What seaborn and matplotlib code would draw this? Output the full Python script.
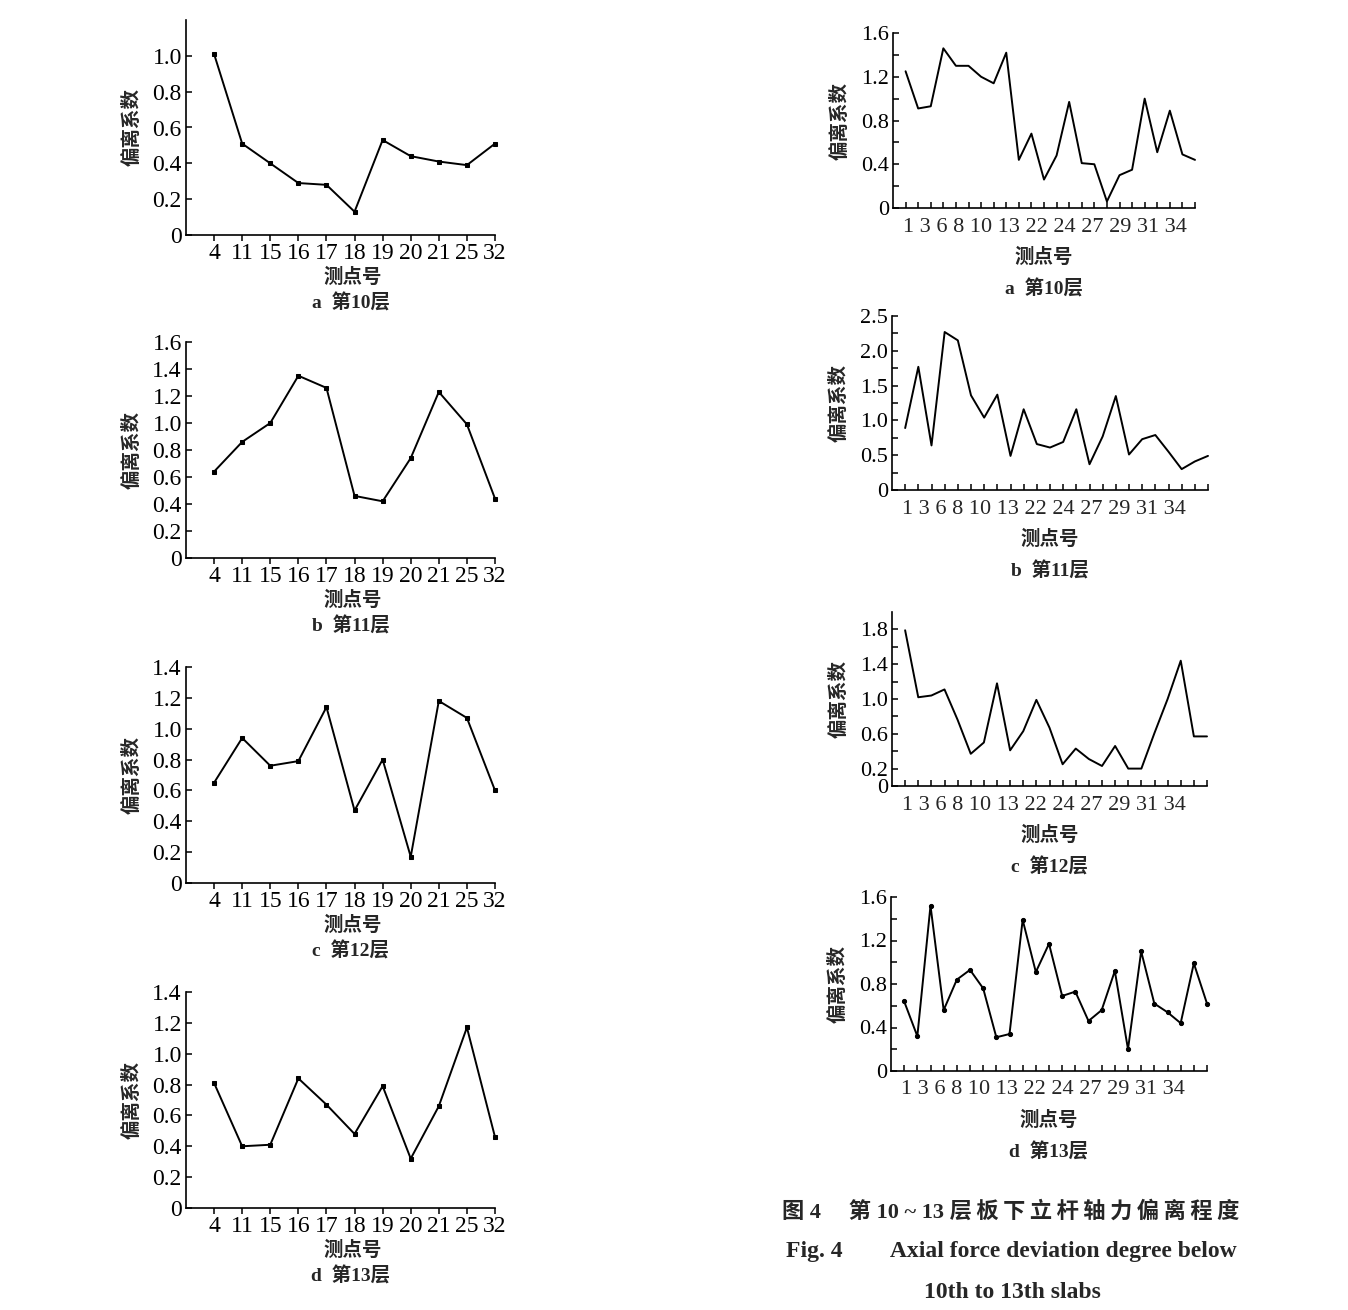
import numpy as np
import pandas as pd
import matplotlib
matplotlib.use('Agg')
import matplotlib.pyplot as plt
import seaborn as sns

W, H = 1348, 1310

# left column: points 4..32
left_ids = ['4', '11', '15', '16', '17', '18', '19', '20', '21', '25', '32']
left_10 = [1.01, 0.51, 0.40, 0.29, 0.28, 0.13, 0.53, 0.44, 0.41, 0.39, 0.51]
left_11 = [0.64, 0.86, 1.00, 1.35, 1.26, 0.46, 0.42, 0.74, 1.23, 0.99, 0.44]
left_12 = [0.65, 0.94, 0.76, 0.79, 1.14, 0.47, 0.80, 0.17, 1.18, 1.07, 0.60]
left_13 = [0.81, 0.40, 0.41, 0.84, 0.67, 0.48, 0.79, 0.32, 0.66, 1.17, 0.46]

# right column: 24 points, labels as printed
right_labels = ['1', '3', '6', '8', '10', '13', '22', '24', '27', '29', '31', '34']
right_10 = [1.25, 0.91, 0.93, 1.46, 1.30, 1.30, 1.20, 1.14, 1.42, 0.44, 0.68, 0.26,
            0.48, 0.97, 0.41, 0.40, 0.06, 0.30, 0.35, 1.00, 0.51, 0.89, 0.49, 0.44]
right_11 = [0.89, 1.77, 0.64, 2.27, 2.15, 1.36, 1.04, 1.37, 0.49, 1.16, 0.66, 0.61,
            0.69, 1.16, 0.37, 0.77, 1.35, 0.51, 0.73, 0.79, 0.55, 0.30, 0.41, 0.49]
right_12 = [1.79, 1.02, 1.04, 1.11, 0.76, 0.37, 0.50, 1.18, 0.41, 0.63, 0.99, 0.67,
            0.25, 0.43, 0.31, 0.23, 0.46, 0.20, 0.20, 0.61, 1.00, 1.44, 0.57, 0.57]
right_13 = [0.64, 0.32, 1.52, 0.56, 0.84, 0.93, 0.76, 0.31, 0.34, 1.39, 0.91, 1.17,
            0.69, 0.73, 0.46, 0.56, 0.92, 0.20, 1.10, 0.62, 0.54, 0.44, 0.99, 0.62]

panel_names = ['a  第10层', 'b  第11层', 'c  第12层', 'd  第13层']

sns.set_theme(style='ticks')
plt.rcParams['font.family'] = ['Liberation Serif', 'Noto Sans CJK SC']
plt.rcParams['axes.linewidth'] = 1.2
plt.rcParams['axes.edgecolor'] = 'black'

CJK = ['Noto Sans CJK SC', 'DejaVu Sans']
MIX = ['Liberation Serif', 'Noto Sans CJK SC']

fig = plt.figure(figsize=(W / 100, H / 100), dpi=100)


def add_axes(left, right, top, bottom):
    return fig.add_axes([left / W, 1 - bottom / H, (right - left) / W, (bottom - top) / H])


def fmt(v):
    return '0' if v == 0 else f'{v:.1f}'


# left column
left_boxes = [(20, 235), (342, 558), (667, 883), (992, 1208)]
left_series = [left_10, left_11, left_12, left_13]
left_ylim = [(1.2, 1.0), (1.6, 1.6), (1.4, 1.4), (1.4, 1.4)]

for i, (vals, (top, bottom), (ymax, ylab)) in enumerate(zip(left_series, left_boxes, left_ylim)):
    ax = add_axes(186, 495, top, bottom)
    df = pd.DataFrame({'pos': np.arange(len(vals)), 'val': vals})
    sns.lineplot(data=df, x='pos', y='val', ax=ax, color='black', lw=1.4,
                 marker='s', markersize=3.5, markeredgecolor='black', sort=False,
                 clip_on=False)
    ax.set_xlim(-1, len(vals) - 1)
    ax.set_ylim(0, ymax)
    ticks = np.round(np.arange(0, ylab + 0.01, 0.2), 1)
    ax.set_yticks(ticks)
    ax.set_yticklabels([fmt(t) for t in ticks], fontsize=17)
    ax.set_xticks(np.arange(len(vals)))
    ax.set_xticklabels(left_ids, fontsize=17)
    ax.tick_params(axis='y', direction='in', length=4, width=1.1, pad=3, colors='black')
    ax.tick_params(axis='x', direction='out', length=4, width=1.1, pad=2, colors='black')
    sns.despine(ax=ax)
    ax.set_xlabel('')
    ax.set_ylabel('偏离系数', fontsize=14, fontweight='bold', family=CJK, labelpad=8)
    ax.annotate('测点号', xy=(0.5, 0), xycoords='axes fraction', xytext=(12, -42),
                textcoords='offset pixels', ha='center', va='center',
                fontsize=14, fontweight='bold', family=CJK)
    ax.annotate(panel_names[i], xy=(0.5, 0), xycoords='axes fraction', xytext=(10, -68),
                textcoords='offset pixels', ha='center', va='center',
                fontsize=14, fontweight='bold', family=MIX)

# right column
right_boxes = [(893, 1195, 33, 208), (892, 1208, 316, 490),
               (892, 1207, 612, 786), (891, 1207, 897, 1071)]
right_series = [right_10, right_11, right_12, right_13]
right_major = [[0, 0.4, 0.8, 1.2, 1.6], [0, 0.5, 1.0, 1.5, 2.0, 2.5],
               [0, 0.2, 0.6, 1.0, 1.4, 1.8], [0, 0.4, 0.8, 1.2, 1.6]]
right_minor = [[0.2, 0.6, 1.0, 1.4], [0.25, 0.75, 1.25, 1.75, 2.25],
               [0.4, 0.8, 1.2, 1.6], [0.2, 0.6, 1.0, 1.4]]
right_ymax = [1.6, 2.5, 2.0, 1.6]

for i, vals in enumerate(right_series):
    l, r, top, bottom = right_boxes[i]
    ax = add_axes(l, r, top, bottom)
    df = pd.DataFrame({'pos': np.arange(len(vals)), 'val': vals})
    kw = dict(marker='o', markersize=3, markeredgecolor='black') if i == 3 else {}
    sns.lineplot(data=df, x='pos', y='val', ax=ax, color='black', lw=1.4, sort=False,
                 clip_on=False, **kw)
    ax.set_xlim(-1, len(vals) - 1)
    ax.set_ylim(0, right_ymax[i])
    ax.set_yticks(right_major[i])
    ax.set_yticklabels([fmt(t) for t in right_major[i]], fontsize=16)
    ax.set_yticks(right_minor[i], minor=True)
    ax.set_xticks(np.arange(len(vals)))
    ax.set_xticklabels([])
    ax.tick_params(axis='both', which='both', direction='in', length=4, width=1.1,
                   pad=3, colors='black')
    sns.despine(ax=ax)
    ax.set_xlabel('')
    ax.set_ylabel('偏离系数', fontsize=14, fontweight='bold', family=CJK, labelpad=8)
    ax.annotate(' '.join(right_labels), xy=(0, 0), xycoords=('data', 'axes fraction'),
                xytext=(-3, -19), textcoords='offset pixels', ha='left', va='center',
                fontsize=16)
    ax.annotate('测点号', xy=(0.5, 0), xycoords='axes fraction', xytext=(0, -49),
                textcoords='offset pixels', ha='center', va='center',
                fontsize=14, fontweight='bold', family=CJK)
    ax.annotate(panel_names[i], xy=(0.5, 0), xycoords='axes fraction', xytext=(0, -81),
                textcoords='offset pixels', ha='center', va='center',
                fontsize=14, fontweight='bold', family=MIX)

# figure caption
cap_cn = '图 4\u2003 第 10 ~ 13 ' + '\u2009'.join('层板下立杆轴力偏离程度')
fig.text(1011 / W, 1 - 1212 / H, cap_cn,
         ha='center', va='center', fontsize=16, fontweight='bold', family=MIX)
fig.text(1011 / W, 1 - 1252 / H, 'Fig. 4\u2003\u2003Axial force deviation degree below',
         ha='center', va='center', fontsize=17, fontweight='bold', family=MIX)
fig.text(1012 / W, 1 - 1292 / H, '10th to 13th slabs',
         ha='center', va='center', fontsize=17, fontweight='bold', family=MIX)

fig.savefig('out.png', dpi=100, facecolor='white')
